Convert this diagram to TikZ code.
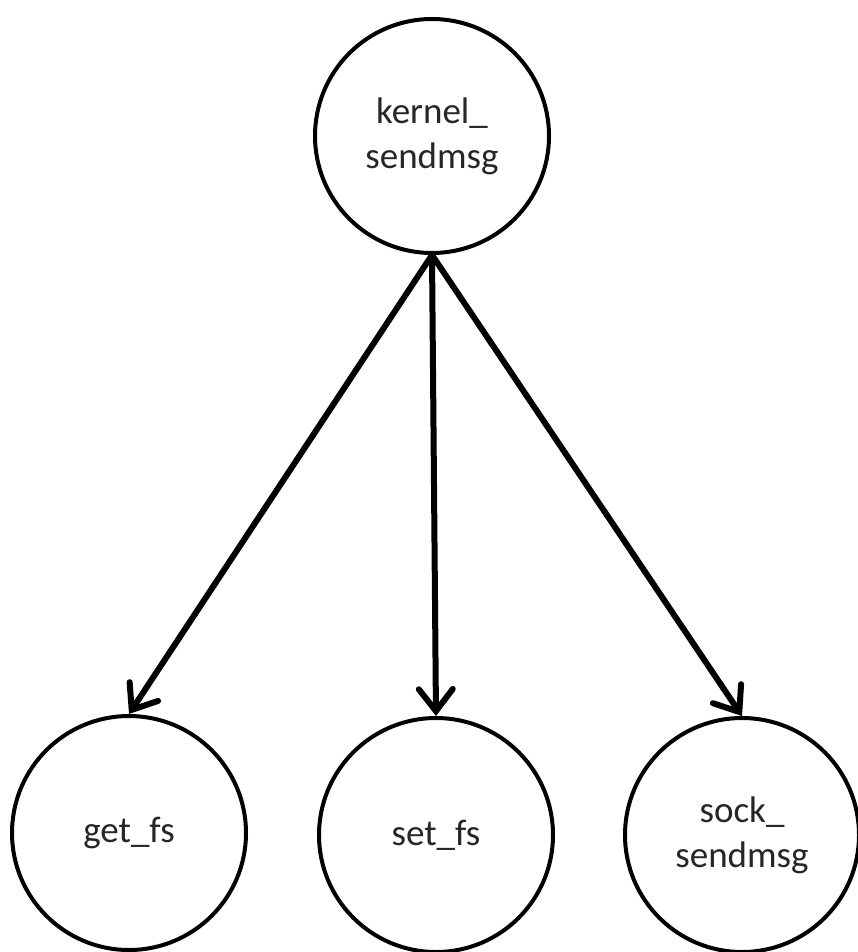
\documentclass[tikz,border=0pt]{standalone}
\usepackage{fontspec}
\setmainfont{Carlito}
\usetikzlibrary{arrows.meta, positioning}

\begin{document}
\begin{tikzpicture}[
  x=1pt, y=-1pt,
  func/.style={draw, circle, line width=4pt, minimum size=234pt, inner sep=0pt, align=center, font=\fontsize{37}{45}\selectfont, text=black!85},
  call/.style={line width=6pt, -{Straight Barb[length=22pt, width=34pt, line cap=round]}}
]
  \useasboundingbox (0,0) rectangle (857,952);
  \node[func] (kernel) at (432,136) {kernel\_\\sendmsg};
  \node[func] (getfs) at (129,833) {get\_fs};
  \node[func] (setfs) at (436,835) {set\_fs};
  \node[func] (sock) at (742,835) {sock\_\\sendmsg};

  \draw[call] (kernel.south) -- (getfs.north);
  \draw[call] (kernel.south) -- (setfs.north);
  \draw[call] (kernel.south) -- (sock.north);
\end{tikzpicture}
\end{document}
